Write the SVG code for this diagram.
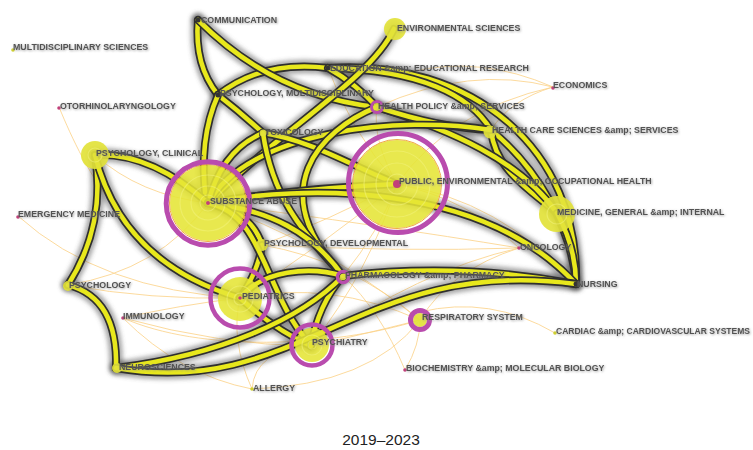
<svg xmlns="http://www.w3.org/2000/svg" width="753" height="450" viewBox="0 0 753 450">
<style>
.hl{fill:none;stroke:#555;stroke-width:14;stroke-opacity:.5;stroke-linecap:round}
.ol{fill:none;stroke:#2f2f2f;stroke-width:8;stroke-linecap:round}
.co{fill:none;stroke:#e8e81c;stroke-width:4.6;stroke-linecap:round}
.th{fill:none;stroke:#fbd38c;stroke-width:1;stroke-opacity:.85}
.lb{font-family:"Liberation Sans",Arial,sans-serif;font-size:8.8px;font-weight:bold;fill:#525252;filter:url(#ts)}
.big{fill:#e5e536;fill-opacity:.88}
.rim{fill:none;stroke:#f0a848;stroke-width:1}
.ring{fill:none;stroke:#b94cae}
.inner{fill:none;stroke:#f2f27a;stroke-opacity:.55;stroke-width:1.2}
.dm{fill:#c2407a}
.dy{fill:#cfd030}
.dk{fill:#333}
.yn{fill:#e2e23a;fill-opacity:.92}
</style>
<defs>
<filter id="soft" x="-5%" y="-5%" width="110%" height="110%"><feGaussianBlur stdDeviation="2.2"/></filter>
<filter id="ts" x="-5%" y="-30%" width="110%" height="160%"><feDropShadow dx="0.8" dy="0.8" stdDeviation="0.8" flood-color="#8a8a8a" flood-opacity="0.8"/></filter>
<path id="e1" d="M198,20 Q194,65 218,95"/>
<path id="e2" d="M198,20 C250,72 310,100 377,107"/>
<path id="e3" d="M218,95 Q262,60 328,68"/>
<path id="e4" d="M218,95 Q240,112 263,133"/>
<path id="e5" d="M218,95 Q198,140 206,200"/>
<path id="e6" d="M328,68 Q356,84 377,107"/>
<path id="e7" d="M394,29 C370,80 280,130 208,203"/>
<path id="e8" d="M377,107 C320,130 262,190 343,276"/>
<path id="e9" d="M263,133 Q222,150 208,203"/>
<path id="e10" d="M263,133 C310,140 350,165 397,184"/>
<path id="e11" d="M263,133 C272,195 300,230 343,276"/>
<path id="e12" d="M208,203 C250,130 400,115 491,130"/>
<path id="e13" d="M208,203 Q300,188 397,184"/>
<path id="e14" d="M208,203 C300,185 480,180 576,284"/>
<path id="e15" d="M95,155 Q150,152 208,203"/>
<path id="e16" d="M95,155 Q106,225 68,285"/>
<path id="e17" d="M95,155 Q122,263 240,298"/>
<path id="e18" d="M68,285 Q118,298 116,368"/>
<path id="e19" d="M116,368 C220,355 300,320 343,276"/>
<path id="e20" d="M116,368 C300,400 360,255 576,284"/>
<path id="e21" d="M208,203 Q252,212 262,245"/>
<path id="e22" d="M262,245 Q258,272 240,298"/>
<path id="e23" d="M208,203 C265,215 262,290 311,346"/>
<path id="e24" d="M208,203 C270,210 312,232 343,276"/>
<path id="e25" d="M240,298 C262,270 310,266 343,276"/>
<path id="e26" d="M240,298 Q275,330 311,346"/>
<path id="e27" d="M343,276 Q318,305 311,346"/>
<path id="e28" d="M343,276 Q460,262 576,284"/>
<path id="e29" d="M328,68 C472,58 580,150 576,284"/>
<path id="e30" d="M328,68 C420,70 470,95 491,130"/>
<path id="e31" d="M377,107 Q440,128 491,130"/>
<path id="e32" d="M377,107 C450,130 520,160 557,213"/>
<path id="e33" d="M491,130 C495,170 530,190 557,213"/>
<path id="e34" d="M491,130 C540,170 572,230 576,284"/>
<path id="e35" d="M557,213 Q576,248 576,284"/>
</defs>
<rect width="753" height="450" fill="#fff"/>
<g id="connectors">
<!-- faint co-occurrence links -->
<g class="th">
<path d="M59,107 C85,170 130,260 240,298"/>
<path d="M95,155 Q140,195 208,203"/>
<path d="M18,216 Q100,290 240,298"/>
<path d="M68,285 Q160,270 208,203"/>
<path d="M68,285 Q150,300 240,298"/>
<path d="M123,318 Q180,305 240,298"/>
<path d="M123,318 Q220,345 311,346"/>
<path d="M123,318 Q180,375 252,389"/>
<path d="M123,318 C200,352 330,348 420,320"/>
<path d="M252,389 Q370,385 420,320"/>
<path d="M252,389 Q255,350 311,346"/>
<path d="M252,389 Q230,340 240,298"/>
<path d="M405,370 Q420,345 420,320"/>
<path d="M405,370 Q380,310 343,276"/>
<path d="M420,320 Q360,335 311,346"/>
<path d="M420,320 Q330,280 240,298"/>
<path d="M420,320 Q450,270 519,248"/>
<path d="M420,312 Q490,295 555,333"/>
<path d="M519,248 Q380,225 208,203"/>
<path d="M519,248 Q420,270 311,346"/>
<path d="M519,248 Q470,200 397,184"/>
<path d="M397,184 Q500,200 576,284"/>
<path d="M553,87 Q470,65 377,107"/>
<path d="M553,87 Q480,55 410,72"/>
<path d="M553,87 Q510,100 491,130"/>
<path d="M553,87 Q450,110 397,184"/>
<path d="M262,245 Q330,220 397,184"/>
<path d="M240,298 Q330,240 397,184"/>
<path d="M311,346 Q370,270 397,184"/>
<path d="M343,276 Q380,230 397,184"/>
<path d="M262,245 Q400,252 519,248"/>
<path d="M377,107 Q372,140 397,184"/>
<path d="M328,68 Q350,130 397,184"/>
<path d="M262,245 Q350,260 420,320"/>
<path d="M208,203 Q320,240 420,320"/>
</g>
<!-- soft shadow under the strong links -->
<g class="hl" filter="url(#soft)">
<use href="#e1"/><use href="#e2"/><use href="#e3"/><use href="#e4"/><use href="#e5"/><use href="#e6"/><use href="#e7"/><use href="#e8"/><use href="#e9"/><use href="#e10"/><use href="#e11"/><use href="#e12"/><use href="#e13"/><use href="#e14"/><use href="#e15"/><use href="#e16"/><use href="#e17"/><use href="#e18"/><use href="#e19"/><use href="#e20"/><use href="#e21"/><use href="#e22"/><use href="#e23"/><use href="#e24"/><use href="#e25"/><use href="#e26"/><use href="#e27"/><use href="#e28"/><use href="#e29"/><use href="#e30"/><use href="#e31"/><use href="#e32"/><use href="#e33"/><use href="#e34"/><use href="#e35"/>
</g>
<!-- strong links: dark casing with yellow core -->
<g><use class="ol" href="#e29"/><use class="co" href="#e29"/></g>
<g><use class="ol" href="#e30"/><use class="co" href="#e30"/></g>
<g><use class="ol" href="#e34"/><use class="co" href="#e34"/></g>
<g><use class="ol" href="#e33"/><use class="co" href="#e33"/></g>
<g><use class="ol" href="#e32"/><use class="co" href="#e32"/></g>
<g><use class="ol" href="#e31"/><use class="co" href="#e31"/></g>
<g><use class="ol" href="#e35"/><use class="co" href="#e35"/></g>
<g><use class="ol" href="#e1"/><use class="co" href="#e1"/></g>
<g><use class="ol" href="#e3"/><use class="co" href="#e3"/></g>
<g><use class="ol" href="#e2"/><use class="co" href="#e2"/></g>
<g><use class="ol" href="#e6"/><use class="co" href="#e6"/></g>
<g><use class="ol" href="#e7"/><use class="co" href="#e7"/></g>
<g><use class="ol" href="#e4"/><use class="co" href="#e4"/></g>
<g><use class="ol" href="#e5"/><use class="co" href="#e5"/></g>
<g><use class="ol" href="#e12"/><use class="co" href="#e12"/></g>
<g><use class="ol" href="#e9"/><use class="co" href="#e9"/></g>
<g><use class="ol" href="#e10"/><use class="co" href="#e10"/></g>
<g><use class="ol" href="#e8"/><use class="co" href="#e8"/></g>
<g><use class="ol" href="#e11"/><use class="co" href="#e11"/></g>
<g><use class="ol" href="#e13"/><use class="co" href="#e13"/></g>
<g><use class="ol" href="#e14"/><use class="co" href="#e14"/></g>
<g><use class="ol" href="#e15"/><use class="co" href="#e15"/></g>
<g><use class="ol" href="#e16"/><use class="co" href="#e16"/></g>
<g><use class="ol" href="#e17"/><use class="co" href="#e17"/></g>
<g><use class="ol" href="#e18"/><use class="co" href="#e18"/></g>
<g><use class="ol" href="#e21"/><use class="co" href="#e21"/></g>
<g><use class="ol" href="#e22"/><use class="co" href="#e22"/></g>
<g><use class="ol" href="#e24"/><use class="co" href="#e24"/></g>
<g><use class="ol" href="#e23"/><use class="co" href="#e23"/></g>
<g><use class="ol" href="#e25"/><use class="co" href="#e25"/></g>
<g><use class="ol" href="#e26"/><use class="co" href="#e26"/></g>
<g><use class="ol" href="#e27"/><use class="co" href="#e27"/></g>
<g><use class="ol" href="#e19"/><use class="co" href="#e19"/></g>
<g><use class="ol" href="#e28"/><use class="co" href="#e28"/></g>
<g><use class="ol" href="#e20"/><use class="co" href="#e20"/></g>
</g>

<g id="node-substance-abuse">
<circle class="big" cx="208" cy="203" r="38"/>
<circle class="inner" cx="208" cy="203" r="28"/><circle class="inner" cx="208" cy="203" r="17"/><circle class="inner" cx="208" cy="203" r="8"/>
<circle class="rim" cx="208" cy="203" r="38.5"/>
<circle class="ring" cx="208" cy="203.5" r="41.8" stroke-width="5"/>
<circle class="dm" cx="208" cy="203" r="2"/>
<text class="lb" x="210" y="204">SUBSTANCE ABUSE</text>
</g>
<g id="node-public-health">
<circle class="big" cx="397" cy="184" r="44"/>
<circle class="inner" cx="397" cy="184" r="33"/><circle class="inner" cx="397" cy="184" r="21"/><circle class="inner" cx="397" cy="184" r="10"/>
<circle class="rim" cx="397" cy="184" r="44.5"/>
<circle class="ring" cx="398" cy="183" r="49.5" stroke-width="5"/>
<circle class="dm" cx="397" cy="184" r="4"/>
<text class="lb" x="399" y="184">PUBLIC, ENVIRONMENTAL &amp;amp; OCCUPATIONAL HEALTH</text>
</g>
<g id="node-pediatrics">
<circle class="big" cx="240" cy="299" r="22"/>
<circle class="inner" cx="240" cy="299" r="13"/><circle class="inner" cx="240" cy="299" r="6"/>
<circle class="ring" cx="240" cy="298" r="29.5" stroke-width="4.5"/>
<circle class="dm" cx="240" cy="298" r="1.8"/>
<text class="lb" x="242" y="298.5">PEDIATRICS</text>
</g>
<g id="node-psychiatry">
<circle class="big" cx="312" cy="345" r="17"/>
<circle class="inner" cx="312" cy="345" r="10"/><circle class="inner" cx="312" cy="345" r="4"/>
<circle class="ring" cx="312" cy="345" r="20.5" stroke-width="4.5"/>
<text class="lb" x="312" y="345">PSYCHIATRY</text>
</g>
<g id="node-pharmacology">
<circle class="ring" cx="343" cy="277" r="5.5" stroke-width="3.5"/>
<circle class="yn" cx="343" cy="277" r="3.2"/>
<text class="lb" x="345" y="278">PHARMACOLOGY &amp;amp; PHARMACY</text>
</g>
<g id="node-respiratory">
<circle class="yn" cx="420" cy="320" r="7"/>
<circle class="ring" cx="420" cy="320" r="9.5" stroke-width="5"/>
<text class="lb" x="422" y="320">RESPIRATORY SYSTEM</text>
</g>
<g id="node-health-policy">
<circle class="yn" cx="377" cy="107" r="4"/>
<circle class="ring" cx="377" cy="107" r="5.5" stroke-width="3"/>
<text class="lb" x="378" y="108.5">HEALTH POLICY &amp;amp; SERVICES</text>
</g>
<g id="node-psychology-clinical">
<circle class="yn" cx="95" cy="155" r="14"/>
<circle class="inner" cx="95" cy="155" r="7"/>
<text class="lb" x="96" y="155.5">PSYCHOLOGY, CLINICAL</text>
</g>
<g id="node-medicine-general">
<circle class="yn" cx="557" cy="214" r="18"/>
<circle class="inner" cx="557" cy="214" r="10"/>
<text class="lb" x="557" y="215">MEDICINE, GENERAL &amp;amp; INTERNAL</text>
</g>
<g id="node-environmental-sciences">
<circle class="yn" cx="395" cy="29" r="11"/>
<text class="lb" x="397" y="30.5">ENVIRONMENTAL SCIENCES</text>
</g>
<g id="node-health-care-sciences">
<circle class="yn" cx="490" cy="132" r="6.5"/>
<text class="lb" x="492" y="133">HEALTH CARE SCIENCES &amp;amp; SERVICES</text>
</g>
<g id="node-psychology-developmental">
<circle class="yn" cx="262" cy="245" r="6"/>
<text class="lb" x="264" y="246">PSYCHOLOGY, DEVELOPMENTAL</text>
</g>
<g id="node-psychology">
<circle class="yn" cx="68" cy="286" r="5"/>
<text class="lb" x="69" y="288">PSYCHOLOGY</text>
</g>
<g id="node-neurosciences">
<circle class="yn" cx="117" cy="368" r="5"/>
<text class="lb" x="119" y="369.5">NEUROSCIENCES</text>
</g>
<g id="node-toxicology">
<circle class="yn" cx="263" cy="133" r="3.5"/>
<text class="lb" x="265" y="135">TOXICOLOGY</text>
</g>
<g id="node-education">
<circle class="dk" cx="328" cy="68" r="2.5"/>
<text class="lb" x="330" y="70.5">EDUCATION &amp;amp; EDUCATIONAL RESEARCH</text>
</g>
<g id="node-communication">
<circle class="dk" cx="198" cy="20" r="2.5"/>
<text class="lb" x="201" y="23">COMMUNICATION</text>
</g>
<g id="node-psychology-multidisciplinary">
<circle class="dk" cx="218" cy="95" r="2.5"/>
<text class="lb" x="220" y="95.5">PSYCHOLOGY, MULTIDISCIPLINARY</text>
</g>
<g id="node-nursing">
<circle class="dk" cx="576" cy="284" r="2.5"/>
<text class="lb" x="577" y="287">NURSING</text>
</g>
<g id="node-oncology">
<circle class="dm" cx="519" cy="248" r="1.8"/>
<text class="lb" x="520" y="250">ONCOLOGY</text>
</g>
<g id="node-multidisciplinary-sciences">
<circle class="dy" cx="13" cy="50" r="1.8"/>
<text class="lb" x="13" y="50">MULTIDISCIPLINARY SCIENCES</text>
</g>
<g id="node-otorhinolaryngology">
<circle class="dm" cx="59" cy="108" r="1.8"/>
<text class="lb" x="60" y="108.5">OTORHINOLARYNGOLOGY</text>
</g>
<g id="node-economics">
<circle class="dm" cx="553" cy="88" r="1.8"/>
<text class="lb" x="553" y="88">ECONOMICS</text>
</g>
<g id="node-emergency-medicine">
<circle class="dm" cx="18" cy="217" r="1.8"/>
<text class="lb" x="18" y="217">EMERGENCY MEDICINE</text>
</g>
<g id="node-immunology">
<circle class="dm" cx="123" cy="318" r="1.8"/>
<text class="lb" x="123" y="318.5">IMMUNOLOGY</text>
</g>
<g id="node-cardiac">
<circle class="dy" cx="555" cy="333" r="1.8"/>
<text class="lb" x="556" y="334" textLength="194" lengthAdjust="spacingAndGlyphs">CARDIAC &amp;amp; CARDIOVASCULAR SYSTEMS</text>
</g>
<g id="node-biochemistry">
<circle class="dm" cx="405" cy="370" r="1.8"/>
<text class="lb" x="406" y="371">BIOCHEMISTRY &amp;amp; MOLECULAR BIOLOGY</text>
</g>
<g id="node-allergy">
<circle class="dy" cx="252" cy="389" r="1.8"/>
<text class="lb" x="253" y="391">ALLERGY</text>
</g>
<text x="381" y="445" text-anchor="middle" font-family="'Liberation Sans',Arial,sans-serif" font-size="15.5" fill="#222">2019–2023</text>
</svg>
